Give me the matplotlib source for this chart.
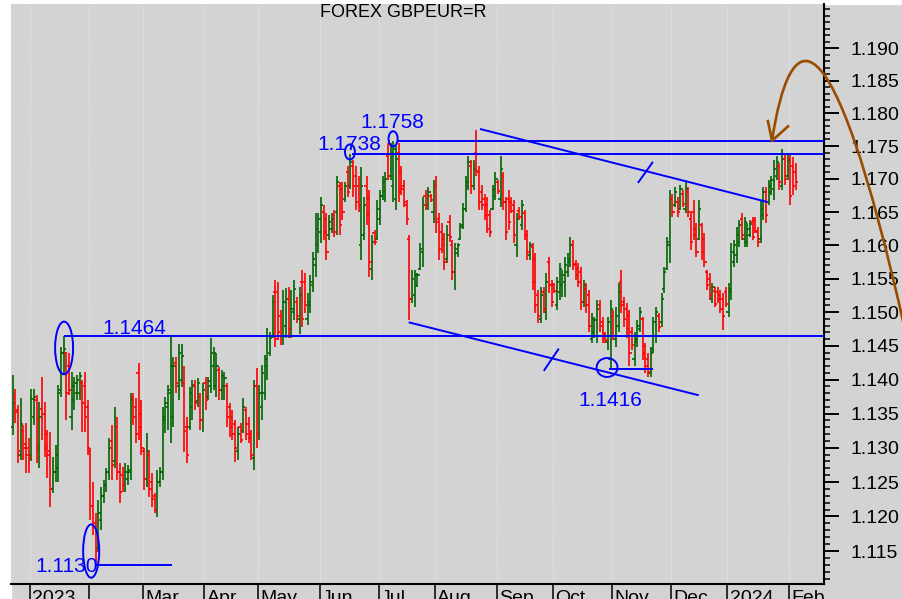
"""
Daily OHLC chart of FOREX GBPEUR=R (Dec 2022 - Feb 2024) with the
hand-drawn support / resistance levels and the falling channel.
"""

import matplotlib
matplotlib.use("Agg")
import matplotlib.pyplot as plt
from matplotlib.patches import Ellipse, PathPatch, Rectangle
from matplotlib.path import Path
from matplotlib.ticker import NullFormatter
import numpy as np
import pandas as pd


# ---------------------------------------------------------------------------
# Data (one row per month)
# ---------------------------------------------------------------------------

first_day = "2022-12-22"

opens = [
    1.1330, 1.1375, 1.1355, 1.1290, 1.1325, 1.1305, 1.1300,
    1.1290, 1.1345, 1.1370, 1.1300, 1.1357, 1.1350, 1.1320, 1.1295, 1.1240, 1.1265, 1.1270,
    1.1385, 1.1440, 1.1440, 1.1420, 1.1345, 1.1370, 1.1380, 1.1380, 1.1395, 1.1390, 1.1360,
    1.1295, 1.1215, 1.1190, 1.1155, 1.1195, 1.1230, 1.1245, 1.1265, 1.1310, 1.1280,
    1.1330, 1.1265, 1.1260, 1.1245, 1.1255, 1.1265, 1.1375, 1.1360, 1.1410, 1.1350,
    1.1295, 1.1255, 1.1290, 1.1250, 1.1230, 1.1210, 1.1250, 1.1265, 1.1340, 1.1360, 1.1380,
    1.1345, 1.1425, 1.1390, 1.1400, 1.1395, 1.1330, 1.1330, 1.1360, 1.1392, 1.1368, 1.1375, 1.1340,
    1.1395, 1.1375, 1.1390, 1.1420, 1.1390, 1.1415, 1.1385, 1.1390, 1.1390, 1.1360,
    1.1345, 1.1335, 1.1295, 1.1330, 1.1325, 1.1355, 1.1335, 1.1320, 1.1285, 1.1390,
    1.1320, 1.1360, 1.1380, 1.1420, 1.1440, 1.1465, 1.1530, 1.1530, 1.1495, 1.1465, 1.1480,
    1.1520, 1.1475, 1.1500, 1.1515, 1.1490, 1.1545, 1.1545, 1.1490, 1.1510, 1.1540, 1.1570, 1.1600,
    1.1620, 1.1650, 1.1640, 1.1615, 1.1625, 1.1645, 1.1650, 1.1690, 1.1685, 1.1670, 1.1710,
    1.1690, 1.1720, 1.1705, 1.1690, 1.1600, 1.1615, 1.1690, 1.1670, 1.1565, 1.1618, 1.1610,
    1.1640, 1.1675, 1.1680, 1.1735, 1.1705, 1.1690, 1.1670, 1.1740, 1.1710, 1.1690, 1.1660,
    1.1610, 1.1520, 1.1525, 1.1540, 1.1565, 1.1590, 1.1675, 1.1660, 1.1675, 1.1650,
    1.1690, 1.1640, 1.1620, 1.1610, 1.1580, 1.1635, 1.1600, 1.1560, 1.1588, 1.1610, 1.1630,
    1.1655, 1.1690, 1.1720, 1.1690, 1.1740, 1.1710, 1.1680, 1.1670, 1.1660, 1.1645, 1.1655, 1.1675,
    1.1695, 1.1670, 1.1705, 1.1665, 1.1670, 1.1665, 1.1660, 1.1600, 1.1652, 1.1630, 1.1648,
    1.1615, 1.1585, 1.1598, 1.1580, 1.1525, 1.1490, 1.1530, 1.1500, 1.1575, 1.1540,
    1.1540, 1.1510, 1.1530, 1.1540, 1.1545, 1.1560, 1.1575, 1.1600, 1.1572, 1.1565, 1.1560,
    1.1515, 1.1535, 1.1525, 1.1460, 1.1470, 1.1465, 1.1510, 1.1485, 1.1468, 1.1455, 1.1430,
    1.1495, 1.1460, 1.1480, 1.1545, 1.1515, 1.1505, 1.1495, 1.1470, 1.1430, 1.1455, 1.1475,
    1.1490, 1.1450, 1.1430, 1.1410, 1.1445, 1.1465, 1.1495, 1.1485, 1.1535, 1.1565, 1.1600,
    1.1670, 1.1660, 1.1665, 1.1655, 1.1678, 1.1655, 1.1680, 1.1640, 1.1650, 1.1625, 1.1610,
    1.1630, 1.1610, 1.1560, 1.1550, 1.1520, 1.1532, 1.1530, 1.1525, 1.1520, 1.1530,
    1.1500, 1.1530, 1.1575, 1.1585, 1.1605, 1.1640, 1.1610, 1.1605, 1.1615, 1.1635, 1.1638,
    1.1620, 1.1610, 1.1645, 1.1680, 1.1665, 1.1680, 1.1685, 1.1705, 1.1720, 1.1690, 1.1730, 1.1705,
    1.1730, 1.1720, 1.1710,
]

highs = [
    1.1407, 1.1386, 1.1363, 1.1373, 1.1333, 1.1336, 1.1314,
    1.1386, 1.1386, 1.1377, 1.1367, 1.1404, 1.1367, 1.1326, 1.1323, 1.1286, 1.1304, 1.1392,
    1.1448, 1.1464, 1.1441, 1.1440, 1.1411, 1.1404, 1.1407, 1.1411, 1.1400, 1.1411, 1.1370,
    1.1300, 1.1250, 1.1205, 1.1224, 1.1243, 1.1253, 1.1271, 1.1314, 1.1333, 1.1360,
    1.1345, 1.1278, 1.1272, 1.1278, 1.1275, 1.1381, 1.1381, 1.1373, 1.1425, 1.1370,
    1.1300, 1.1322, 1.1297, 1.1263, 1.1234, 1.1268, 1.1272, 1.1360, 1.1375, 1.1392, 1.1466,
    1.1433, 1.1433, 1.1453, 1.1453, 1.1420, 1.1345, 1.1389, 1.1400, 1.1400, 1.1403, 1.1381, 1.1395,
    1.1404, 1.1404, 1.1462, 1.1448, 1.1440, 1.1419, 1.1414, 1.1411, 1.1395, 1.1366,
    1.1355, 1.1341, 1.1330, 1.1336, 1.1373, 1.1360, 1.1345, 1.1326, 1.1400, 1.1417,
    1.1392, 1.1422, 1.1437, 1.1477, 1.1470, 1.1525, 1.1548, 1.1545, 1.1503, 1.1533, 1.1536,
    1.1538, 1.1533, 1.1548, 1.1523, 1.1538, 1.1563, 1.1559, 1.1529, 1.1556, 1.1590, 1.1649, 1.1649,
    1.1673, 1.1661, 1.1649, 1.1645, 1.1649, 1.1653, 1.1705, 1.1695, 1.1695, 1.1695, 1.1720,
    1.1738, 1.1729, 1.1720, 1.1705, 1.1718, 1.1673, 1.1705, 1.1683, 1.1616, 1.1623, 1.1668,
    1.1683, 1.1705, 1.1711, 1.1755, 1.1755, 1.1758, 1.1750, 1.1755, 1.1720, 1.1698, 1.1668,
    1.1616, 1.1563, 1.1563, 1.1559, 1.1604, 1.1673, 1.1683, 1.1688, 1.1678, 1.1698,
    1.1705, 1.1649, 1.1634, 1.1619, 1.1631, 1.1646, 1.1608, 1.1604, 1.1604, 1.1634, 1.1664,
    1.1705, 1.1735, 1.1729, 1.1729, 1.1774, 1.1720, 1.1691, 1.1678, 1.1673, 1.1653, 1.1691, 1.1711,
    1.1698, 1.1735, 1.1711, 1.1673, 1.1683, 1.1673, 1.1668, 1.1649, 1.1658, 1.1668, 1.1653,
    1.1623, 1.1605, 1.1604, 1.1589, 1.1533, 1.1538, 1.1538, 1.1559, 1.1583, 1.1548,
    1.1544, 1.1553, 1.1574, 1.1563, 1.1583, 1.1589, 1.1613, 1.1608, 1.1578, 1.1574, 1.1568,
    1.1548, 1.1544, 1.1533, 1.1499, 1.1493, 1.1518, 1.1518, 1.1493, 1.1470, 1.1493, 1.1518,
    1.1503, 1.1508, 1.1544, 1.1563, 1.1523, 1.1514, 1.1503, 1.1478, 1.1470, 1.1488, 1.1508,
    1.1493, 1.1454, 1.1440, 1.1448, 1.1493, 1.1508, 1.1499, 1.1529, 1.1568, 1.1613, 1.1683,
    1.1678, 1.1688, 1.1673, 1.1691, 1.1683, 1.1698, 1.1688, 1.1649, 1.1668, 1.1634, 1.1668,
    1.1634, 1.1619, 1.1563, 1.1559, 1.1544, 1.1538, 1.1538, 1.1533, 1.1529, 1.1538,
    1.1544, 1.1604, 1.1608, 1.1627, 1.1638, 1.1649, 1.1642, 1.1634, 1.1638, 1.1642, 1.1642,
    1.1627, 1.1668, 1.1688, 1.1688, 1.1698, 1.1705, 1.1729, 1.1735, 1.1724, 1.1745, 1.1738, 1.1738,
    1.1738, 1.1733, 1.1724,
]

lows = [
    1.1319, 1.1337, 1.1278, 1.1282, 1.1282, 1.1263, 1.1263,
    1.1280, 1.1333, 1.1278, 1.1270, 1.1311, 1.1287, 1.1256, 1.1214, 1.1234, 1.1250, 1.1250,
    1.1374, 1.1407, 1.1341, 1.1377, 1.1326, 1.1355, 1.1370, 1.1370, 1.1323, 1.1323, 1.1290,
    1.1195, 1.1173, 1.1130, 1.1148, 1.1180, 1.1220, 1.1235, 1.1253, 1.1253, 1.1271,
    1.1253, 1.1220, 1.1235, 1.1235, 1.1246, 1.1253, 1.1333, 1.1307, 1.1311, 1.1290,
    1.1238, 1.1243, 1.1228, 1.1214, 1.1205, 1.1199, 1.1243, 1.1253, 1.1321, 1.1326, 1.1307,
    1.1330, 1.1380, 1.1370, 1.1389, 1.1294, 1.1278, 1.1326, 1.1341, 1.1355, 1.1360, 1.1326, 1.1323,
    1.1355, 1.1370, 1.1381, 1.1385, 1.1374, 1.1370, 1.1370, 1.1370, 1.1330, 1.1316,
    1.1311, 1.1279, 1.1282, 1.1307, 1.1321, 1.1311, 1.1307, 1.1282, 1.1268, 1.1300,
    1.1311, 1.1341, 1.1370, 1.1400, 1.1435, 1.1462, 1.1448, 1.1459, 1.1451, 1.1451, 1.1462,
    1.1462, 1.1462, 1.1488, 1.1484, 1.1468, 1.1478, 1.1499, 1.1481, 1.1499, 1.1530, 1.1553, 1.1589,
    1.1604, 1.1608, 1.1578, 1.1608, 1.1619, 1.1612, 1.1615, 1.1616, 1.1638, 1.1665, 1.1673,
    1.1685, 1.1673, 1.1653, 1.1650, 1.1578, 1.1608, 1.1631, 1.1553, 1.1548, 1.1601, 1.1608,
    1.1631, 1.1668, 1.1665, 1.1698, 1.1698, 1.1665, 1.1653, 1.1665, 1.1676, 1.1658, 1.1631,
    1.1488, 1.1514, 1.1508, 1.1538, 1.1563, 1.1568, 1.1653, 1.1653, 1.1665, 1.1634,
    1.1619, 1.1578, 1.1589, 1.1563, 1.1574, 1.1605, 1.1548, 1.1533, 1.1583, 1.1608, 1.1625,
    1.1650, 1.1683, 1.1678, 1.1683, 1.1705, 1.1653, 1.1653, 1.1638, 1.1619, 1.1612, 1.1653, 1.1668,
    1.1678, 1.1658, 1.1653, 1.1608, 1.1623, 1.1649, 1.1604, 1.1583, 1.1638, 1.1623, 1.1608,
    1.1578, 1.1578, 1.1533, 1.1499, 1.1484, 1.1484, 1.1499, 1.1488, 1.1529, 1.1508,
    1.1529, 1.1503, 1.1518, 1.1523, 1.1523, 1.1553, 1.1568, 1.1563, 1.1548, 1.1538, 1.1503,
    1.1508, 1.1499, 1.1470, 1.1454, 1.1462, 1.1454, 1.1470, 1.1454, 1.1454, 1.1444, 1.1416,
    1.1459, 1.1448, 1.1470, 1.1499, 1.1478, 1.1462, 1.1420, 1.1444, 1.1420, 1.1448, 1.1470,
    1.1429, 1.1410, 1.1404, 1.1404, 1.1440, 1.1454, 1.1470, 1.1478, 1.1529, 1.1563, 1.1574,
    1.1642, 1.1658, 1.1642, 1.1653, 1.1658, 1.1649, 1.1642, 1.1593, 1.1608, 1.1583, 1.1608,
    1.1578, 1.1568, 1.1533, 1.1518, 1.1514, 1.1508, 1.1514, 1.1499, 1.1474, 1.1508,
    1.1493, 1.1518, 1.1568, 1.1574, 1.1598, 1.1608, 1.1598, 1.1598, 1.1612, 1.1608, 1.1619,
    1.1598, 1.1604, 1.1638, 1.1634, 1.1661, 1.1676, 1.1668, 1.1698, 1.1683, 1.1683, 1.1691, 1.1698,
    1.1661, 1.1676, 1.1683,
]

closes = [
    1.1366, 1.1352, 1.1295, 1.1335, 1.1300, 1.1290, 1.1285,
    1.1372, 1.1375, 1.1340, 1.1345, 1.1350, 1.1300, 1.1290, 1.1240, 1.1265, 1.1290, 1.1380,
    1.1440, 1.1445, 1.1380, 1.1385, 1.1390, 1.1395, 1.1400, 1.1405, 1.1365, 1.1345, 1.1300,
    1.1215, 1.1185, 1.1150, 1.1205, 1.1230, 1.1245, 1.1265, 1.1300, 1.1275, 1.1330,
    1.1265, 1.1235, 1.1245, 1.1265, 1.1268, 1.1370, 1.1345, 1.1320, 1.1330, 1.1300,
    1.1255, 1.1295, 1.1240, 1.1225, 1.1210, 1.1250, 1.1265, 1.1345, 1.1365, 1.1385, 1.1420,
    1.1420, 1.1395, 1.1440, 1.1435, 1.1325, 1.1290, 1.1380, 1.1390, 1.1365, 1.1395, 1.1340, 1.1385,
    1.1370, 1.1398, 1.1440, 1.1440, 1.1420, 1.1385, 1.1405, 1.1402, 1.1345, 1.1330,
    1.1320, 1.1300, 1.1320, 1.1312, 1.1360, 1.1320, 1.1315, 1.1290, 1.1390, 1.1320,
    1.1380, 1.1410, 1.1430, 1.1465, 1.1462, 1.1515, 1.1460, 1.1470, 1.1465, 1.1515, 1.1520,
    1.1475, 1.1505, 1.1535, 1.1495, 1.1525, 1.1490, 1.1510, 1.1515, 1.1545, 1.1580, 1.1625, 1.1640,
    1.1660, 1.1620, 1.1590, 1.1635, 1.1640, 1.1620, 1.1695, 1.1630, 1.1650, 1.1690, 1.1680,
    1.1725, 1.1690, 1.1665, 1.1660, 1.1690, 1.1660, 1.1645, 1.1575, 1.1605, 1.1605, 1.1655,
    1.1675, 1.1695, 1.1700, 1.1705, 1.1740, 1.1745, 1.1730, 1.1680, 1.1685, 1.1665, 1.1640,
    1.1520, 1.1550, 1.1555, 1.1555, 1.1595, 1.1660, 1.1660, 1.1680, 1.1668, 1.1690,
    1.1635, 1.1595, 1.1600, 1.1575, 1.1615, 1.1612, 1.1560, 1.1595, 1.1600, 1.1628, 1.1655,
    1.1695, 1.1725, 1.1690, 1.1715, 1.1712, 1.1665, 1.1660, 1.1645, 1.1625, 1.1620, 1.1685, 1.1700,
    1.1682, 1.1715, 1.1665, 1.1620, 1.1635, 1.1652, 1.1615, 1.1640, 1.1642, 1.1660, 1.1615,
    1.1590, 1.1600, 1.1545, 1.1510, 1.1495, 1.1525, 1.1505, 1.1545, 1.1540, 1.1515,
    1.1532, 1.1545, 1.1565, 1.1555, 1.1570, 1.1580, 1.1600, 1.1570, 1.1555, 1.1545, 1.1515,
    1.1540, 1.1510, 1.1480, 1.1490, 1.1488, 1.1505, 1.1480, 1.1462, 1.1458, 1.1485, 1.1505,
    1.1465, 1.1495, 1.1530, 1.1510, 1.1490, 1.1475, 1.1440, 1.1452, 1.1460, 1.1480, 1.1500,
    1.1440, 1.1420, 1.1412, 1.1440, 1.1485, 1.1500, 1.1478, 1.1520, 1.1560, 1.1605, 1.1670,
    1.1650, 1.1680, 1.1650, 1.1685, 1.1662, 1.1685, 1.1650, 1.1605, 1.1615, 1.1590, 1.1655,
    1.1590, 1.1575, 1.1540, 1.1525, 1.1538, 1.1512, 1.1520, 1.1505, 1.1495, 1.1512,
    1.1535, 1.1590, 1.1600, 1.1615, 1.1630, 1.1615, 1.1635, 1.1625, 1.1632, 1.1612, 1.1622,
    1.1605, 1.1655, 1.1680, 1.1645, 1.1690, 1.1698, 1.1715, 1.1725, 1.1695, 1.1730, 1.1700, 1.1728,
    1.1675, 1.1690, 1.1695,
]

month_labels = ["2023", "", "Mar", "Apr", "May", "Jun", "Jul", "Aug",
                "Sep", "Oct", "Nov", "Dec", "2024", "Feb"]

price_ticks = [1.115, 1.120, 1.125, 1.130, 1.135, 1.140, 1.145, 1.150,
               1.155, 1.160, 1.165, 1.170, 1.175, 1.180, 1.185, 1.190]
price_labels = ["1.115", "1.120", "1.125", "1.130", "1.135", "1.140", "1.145", "1.150",
                "1.155", "1.160", "1.165", "1.170", "1.175", "1.180", "1.185", "1.190"]

# marked levels
level_jan_high = 1.1464
level_feb_low = 1.1130
level_jun_high = 1.1738
level_jul_high = 1.1758
level_nov_low = 1.1416

BG = "#d3d3d3"
UP = "#006400"
DOWN = "#ff0000"
BLUE = "#0000ff"
BROWN = "#994c00"

plt.rcParams["font.family"] = ["Liberation Sans", "DejaVu Sans"]


# ---------------------------------------------------------------------------
# Helpers
# ---------------------------------------------------------------------------

def draw_ohlc(ax, x, o, h, l, c):
    """Vertical high-low bar, open tick on the left, close tick on the right."""
    up = c >= o
    for mask, color in ((up, UP), (~up, DOWN)):
        xs = x[mask]
        ax.vlines(xs, l[mask], h[mask], color=color, lw=1.2, zorder=3)
        ax.hlines(o[mask], xs - 0.85, xs, color=color, lw=1.2, zorder=3)
        ax.hlines(c[mask], xs, xs + 0.85, color=color, lw=1.2, zorder=3)


def ring(ax, xc, yc, w, h):
    ax.add_patch(Ellipse((xc, yc), w, h, fill=False, ec=BLUE, lw=1.4, zorder=5))


def seg(ax, x0, x1, y0, y1):
    ax.plot([x0, x1], [y0, y1], color=BLUE, lw=1.4, zorder=5, solid_capstyle="butt")


# ---------------------------------------------------------------------------
# Figure
# ---------------------------------------------------------------------------

o = np.array(opens)
h = np.array(highs)
l = np.array(lows)
c = np.array(closes)
x = np.arange(len(c))

dates = pd.bdate_range(first_day, periods=len(c))
month_id = dates.year * 12 + dates.month
bounds = np.flatnonzero(np.diff(month_id)) + 1 - 0.5

fig = plt.figure(figsize=(9.02, 5.99), dpi=100, facecolor=BG)
fig.add_artist(Rectangle((0, 0), 11 / 902, 1, transform=fig.transFigure,
                         color="white", zorder=-5))
fig.add_artist(Rectangle((0, 595 / 599), 1, 4 / 599, transform=fig.transFigure,
                         color="white", zorder=-5))

ax = fig.add_axes([11 / 902, 15 / 599, 813 / 902, 580 / 599])
ax.set_facecolor(BG)

x_max = 302.6
ax.set_xlim(-0.6, x_max)
ax.set_xticks([])

ax.set_yscale("log")
ax.set_ylim(1.11025, 1.1968)
ax.set_yticks(price_ticks, labels=price_labels)
ax.set_yticks(np.arange(1.111, 1.1965, 0.001), minor=True)
ax.yaxis.set_minor_formatter(NullFormatter())
ax.yaxis.tick_right()
ax.tick_params(axis="y", which="major", direction="out", length=10.5,
               width=1.4, pad=8.5, labelsize=14, colors="black")
ax.tick_params(axis="y", which="minor", direction="out", length=4.5, width=1.1)

for side in ("left", "top"):
    ax.spines[side].set_visible(False)
ax.spines["right"].set_linewidth(1.5)
ax.spines["bottom"].set_linewidth(1.5)

# month grid, separators and labels
xt = ax.get_xaxis_transform()
ax.vlines(bounds, 0, 1, transform=xt, colors="#ececec",
          linestyles=(0, (1, 1.5)), lw=0.8, zorder=1)
for b, lab in zip(bounds, month_labels):
    ax.plot([b, b], [0, -0.04], transform=xt, color="black", lw=1.1, clip_on=False)
    ax.text(b + 0.9, -0.011, lab, transform=xt, ha="left", va="top",
            fontsize=14, clip_on=False)

draw_ohlc(ax, x, o, h, l, c)

ax.text(0.380, 0.9845, "FOREX GBPEUR=R", transform=ax.transAxes,
        ha="left", va="center", fontsize=13)

# support / resistance marks
ring(ax, 19.2, 1.1447, 6.7, 0.0078)
seg(ax, 19.2, x_max, level_jan_high, level_jan_high)
ax.text(33.4, level_jan_high + 0.0004, f"{level_jan_high:.4f}", color=BLUE,
        fontsize=15, va="baseline")

ring(ax, 29.3, 1.1150, 6.0, 0.0077)
seg(ax, 30.8, 59.5, level_feb_low, level_feb_low)
ax.text(8.4, level_feb_low - 0.0002, f"{level_feb_low:.4f}", color=BLUE,
        fontsize=15, va="center")

ring(ax, 125.8, 1.1741, 3.7, 0.0023)
seg(ax, 126.6, x_max, level_jun_high, level_jun_high)
ax.text(113.5, 1.1744, f"{level_jun_high:.4f}", color=BLUE, fontsize=15,
        va="baseline")

ring(ax, 141.9, 1.1761, 3.4, 0.0023)
seg(ax, 143.4, x_max, level_jul_high, level_jul_high)
ax.text(129.6, 1.1777, f"{level_jul_high:.4f}", color=BLUE, fontsize=15,
        va="baseline")

ring(ax, 221.7, 1.1418, 7.8, 0.0028)
seg(ax, 222.4, 238.8, level_nov_low, level_nov_low)
ax.text(222.8, 1.1370, f"{level_nov_low:.4f}", color=BLUE, fontsize=15,
        ha="center", va="center")

# falling channel with break marks
seg(ax, 174.3, 281.7, 1.1776, 1.1665)
seg(ax, 233.2, 238.8, 1.1694, 1.1726)
seg(ax, 147.7, 255.9, 1.1485, 1.1377)
seg(ax, 198.1, 203.7, 1.1413, 1.1446)

# hand-drawn brown arrow pointing at the July high
arc = Path([(332.8, 1.1474), (304.8, 1.1982), (289.8, 1.1935), (283.2, 1.1758)],
           [Path.MOVETO, Path.CURVE4, Path.CURVE4, Path.CURVE4])
ax.add_patch(PathPatch(arc, fill=False, ec=BROWN, lw=1.9, clip_on=False, zorder=6))
ax.plot([281.7, 283.2, 289.2], [1.1788, 1.1758, 1.1780], color=BROWN, lw=1.9,
        clip_on=False, zorder=6)

fig.savefig("out.png", dpi=100, facecolor=fig.get_facecolor())
